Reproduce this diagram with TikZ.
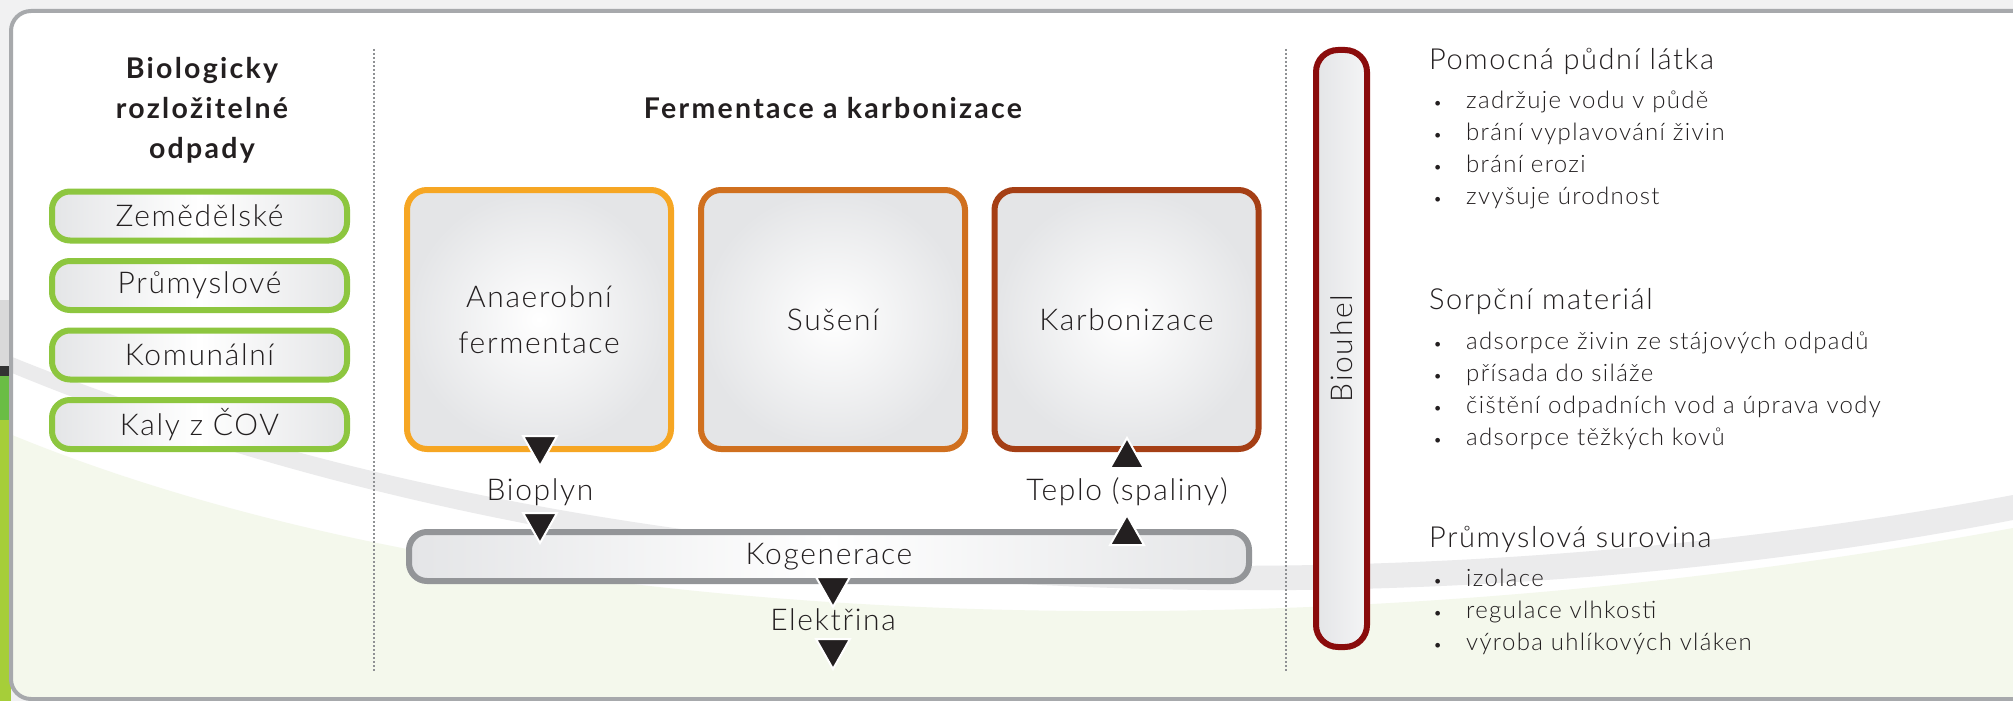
\documentclass[tikz,border=0pt]{standalone}
\usepackage{fontspec}
\setmainfont{Lato}[UprightFont=* Light, BoldFont=* Bold, LetterSpace=5.5]
\usetikzlibrary{calc}
\definecolor{txt}{HTML}{231F20}
\definecolor{framecol}{HTML}{A7A9AC}
\definecolor{boxgray}{HTML}{E4E5E7}
\definecolor{gboxcol}{HTML}{8DC63F}
\definecolor{or1}{HTML}{F6A623}
\definecolor{or2}{HTML}{D0701F}
\definecolor{or3}{HTML}{A53F15}
\definecolor{biocol}{HTML}{8A0C0C}
\definecolor{kogcol}{HTML}{939598}
\definecolor{dotcol}{HTML}{8F9194}
\definecolor{bandcol}{HTML}{EBEBEC}
\definecolor{palegreen}{HTML}{F4F8EC}
\definecolor{outbg}{HTML}{F1F1F2}
\definecolor{tricol}{HTML}{231F20}
\definecolor{swgreen}{HTML}{6ABD45}
\definecolor{swlime}{HTML}{A6CE39}
\tikzset{
  gbox/.style={draw=gboxcol, line width=6pt, rounded corners=18pt,
    left color=boxgray, right color=boxgray, middle color=white,
    minimum width=295pt, minimum height=49pt, inner sep=0pt,
    font=\fontsize{30}{34}\selectfont},
  pbox/.style={line width=6pt, rounded corners=20pt,
    inner color=white, outer color=boxgray,
    minimum width=264pt, minimum height=259pt, align=center, inner sep=0pt,
    font=\fontsize{30}{46}\selectfont},
  kbox/.style={draw=kogcol, line width=6pt, rounded corners=18pt,
    left color=boxgray, right color=boxgray, middle color=white,
    minimum width=840pt, minimum height=49pt, inner sep=0pt,
    font=\fontsize{30}{34}\selectfont},
  bbar/.style={draw=biocol, line width=6pt, rounded corners=22pt,
    left color=boxgray, right color=boxgray!40, minimum width=51pt,
    minimum height=597pt, inner sep=0pt},
  ttl/.style={font=\bfseries\fontsize{28.5}{40}\selectfont\addfontfeature{LetterSpace=8}, align=center},
  lbl/.style={font=\fontsize{30}{34}\selectfont, inner sep=0pt},
  head/.style={font=\fontsize{29}{34}\selectfont, anchor=base west, inner sep=0pt},
  itm/.style={font=\fontsize{24}{28}\selectfont, anchor=base west, inner sep=0pt},
  bul/.style={font=\fontsize{16}{20}\selectfont, anchor=base west, inner sep=0pt},
  dotline/.style={dotcol, line width=1.6pt, dash pattern=on 1.6pt off 2.4pt},
  tridown/.pic={\filldraw[draw=white, fill=tricol, line width=2pt, line join=miter]
      (-17,-15) -- (17,-15) -- (0,15) -- cycle;},
  triup/.pic={\filldraw[draw=white, fill=tricol, line width=2pt, line join=miter]
      (-17,15) -- (17,15) -- (0,-15) -- cycle;}
}
\begin{document}
\begin{tikzpicture}[x=1pt,y=-1pt, text=txt]
\useasboundingbox (0,0) rectangle (2013,701);
\clip (0,0) rectangle (2013,701);
% outside background
\fill[outbg] (0,0) rectangle (2013,701);
\fill[gray!30] (0,300) rectangle (11,366);
\fill[black!80] (0,366) rectangle (11,376);
\fill[swgreen] (0,376) rectangle (11,420);
\fill[swlime] (0,420) rectangle (11,701);
% frame interior
\fill[white, rounded corners=20pt] (2040,11) -- (11,11) -- (11,699) -- (2040,699) -- cycle;
\begin{scope}
  \clip[rounded corners=20pt] (2040,11) -- (11,11) -- (11,699) -- (2040,699) -- cycle;
  \fill[palegreen] (0,430) .. controls (500,640) and (1300,660) .. (2013,528) -- (2013,701) -- (0,701) -- cycle;
  \fill[bandcol] (0,352) .. controls (600,600) and (1400,610) .. (2013,495)
      -- (2013,520) .. controls (1400,638) and (600,620) .. (0,368) -- cycle;
\end{scope}
\draw[framecol, line width=4pt, rounded corners=20pt] (2040,11) -- (11,11) -- (11,699) -- (2040,699);

% dotted separators
\coordinate (d1a) at (374,49); \coordinate (d1b) at (374,671);
\coordinate (d2a) at (1286,49); \coordinate (d2b) at (1286,671);
\draw[dotline] (d1a) -- (d1b);
\draw[dotline] (d2a) -- (d2b);

% left column
\node[ttl] (lt) at (202,110) {Biologicky\\rozložitelné\\odpady};
\node[gbox] (g1) at (199.5,216) {Zemědělské};
\node[gbox] (g2) at (199.5,285.5) {Průmyslové};
\node[gbox] (g3) at (199.5,355) {Komunální};
\node[gbox] (g4) at (199.5,424.5) {Kaly z ČOV};

% middle column
\node[ttl] (mt) at (833,108) {Fermentace a karbonizace};
\node[pbox, draw=or1] (b1) at (539,319.5) {Anaerobní\\fermentace};
\node[pbox, draw=or2] (b2) at (833,319.5) {Sušení};
\node[pbox, draw=or3] (b3) at (1126.5,319.5) {Karbonizace};
\node[kbox] (kog) at (829,556.5) {Kogenerace};

\pic (a1) at (540,451) {tridown};
\node[lbl] (bio) at (540,492) {Bioplyn};
\pic (a2) at (540,528) {tridown};
\pic (a3) at (1127,453) {triup};
\node[lbl] (tep) at (1127,492) {Teplo (spaliny)};
\pic (a4) at (1127,530) {triup};
\pic (a5) at (833,592) {tridown};
\node[lbl] (ele) at (833,620) {Elektřina};
\pic (a6) at (833,654) {tridown};

% biouhel bar
\node[bbar] (bar) at (1341.5,348.5) {};
\node[lbl, rotate=90] (bart) at (bar.center) {Biouhel};

% right column
\node[head] (h1) at (1429,70) {Pomocná půdní látka};
\foreach \t [count=\i] in {zadržuje vodu v půdě, brání vyplavování živin, brání erozi, zvyšuje úrodnost}{
  \node[bul] (pb\i) at (1433,76+32*\i) {•};
  \node[itm] (pi\i) at (1466,76+32*\i) {\t};
}
\node[head] (h2) at (1429,309) {Sorpční materiál};
\foreach \t [count=\i] in {adsorpce živin ze stájových odpadů, přísada do siláže, čištění odpadních vod a úprava vody, adsorpce těžkých kovů}{
  \node[bul] (sb\i) at (1433,317+32*\i) {•};
  \node[itm] (si\i) at (1466,317+32*\i) {\t};
}
\node[head] (h3) at (1429,547) {Průmyslová surovina};
\foreach \t [count=\i] in {izolace, regulace vlhkosti, výroba uhlíkových vláken}{
  \node[bul] (ub\i) at (1433,554+32*\i) {•};
  \node[itm] (ui\i) at (1466,554+32*\i) {\t};
}
\end{tikzpicture}
\end{document}
